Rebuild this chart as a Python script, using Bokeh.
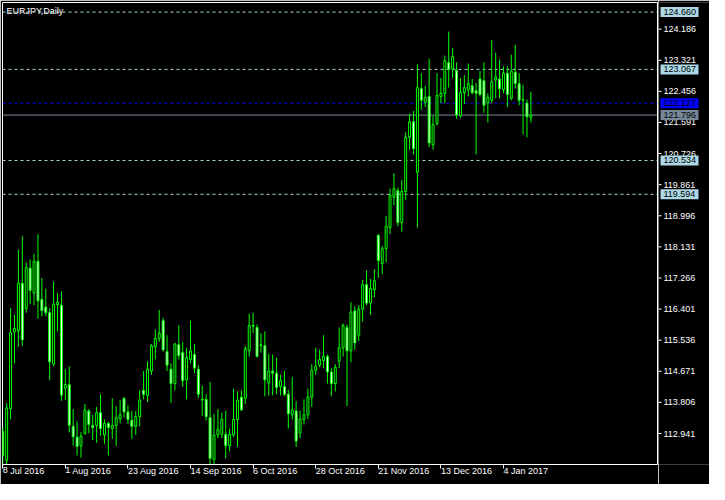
from bokeh.plotting import figure
from bokeh.layouts import row
from bokeh.models import ColumnDataSource, FixedTicker, Span, Label, Range1d
from bokeh.core.properties import value
from bokeh.embed import file_html
from bokeh.resources import INLINE

symbol = "EURJPY,Daily"

opens = [113.003, 112.193, 113.630, 115.770, 115.800, 117.120, 116.410, 117.540, 116.845, 117.730,
         116.670, 116.460, 116.300, 114.870, 116.520, 116.510, 114.200, 114.300, 113.140, 112.840,
         112.600, 112.950, 113.570, 113.165, 113.165, 113.520, 112.900, 113.220, 113.080, 113.165,
         113.350, 113.920, 113.540, 113.310, 113.140, 113.410, 114.140, 114.000, 114.680, 115.350,
         115.590, 116.080, 115.220, 114.730, 114.330, 115.410, 115.190, 114.430, 115.000, 115.140,
         114.730, 113.890, 113.890, 113.380, 112.220, 112.900, 112.920, 112.920, 112.600, 112.900,
         113.330, 113.950, 113.920, 115.240, 115.920, 115.890, 115.380, 115.380, 114.350, 114.680,
         114.620, 114.245, 114.245, 114.030, 113.460, 113.570, 112.950, 113.330, 113.460, 113.950,
         114.700, 114.840, 114.970, 115.080, 114.650, 114.330, 114.950, 115.325, 115.890, 115.240,
         116.350, 115.675, 116.400, 117.080, 116.570, 116.940, 118.455, 117.670, 118.080, 118.670,
         119.510, 119.700, 118.810, 119.670, 121.180, 121.610, 120.210, 122.530, 122.150, 122.315,
         120.965, 121.560, 122.315, 122.400, 123.260, 123.070, 123.040, 121.775, 122.420, 122.500,
         122.610, 122.480, 122.800, 122.750, 122.130, 122.210, 122.770, 122.800, 122.500, 122.960,
         122.260, 122.990, 122.670, 122.210, 122.130, 121.720]
highs = [113.138, 113.786, 116.430, 116.240, 118.050, 118.430, 117.700, 117.780, 117.940, 118.480,
         117.270, 116.970, 116.430, 117.160, 116.840, 116.890, 114.730, 114.810, 113.620, 113.270,
         112.980, 113.760, 113.620, 113.460, 113.680, 114.030, 113.330, 113.270, 113.920, 113.705,
         113.870, 113.950, 113.730, 113.570, 113.570, 114.140, 114.680, 114.950, 115.430, 115.840,
         116.380, 116.160, 115.675, 114.890, 115.460, 115.950, 115.490, 115.325, 116.080, 115.430,
         114.840, 114.270, 114.030, 114.380, 113.490, 113.620, 113.520, 113.570, 113.080, 114.190,
         114.110, 114.140, 115.380, 116.270, 116.300, 115.970, 115.730, 115.780, 115.160, 115.140,
         115.055, 114.570, 114.680, 114.160, 114.515, 113.840, 113.570, 113.890, 114.190, 114.870,
         115.325, 115.270, 115.675, 115.140, 114.760, 114.870, 115.890, 116.000, 115.970, 116.590,
         116.485, 116.510, 117.210, 117.480, 117.240, 117.510, 118.480, 118.160, 118.995, 119.750,
         120.180, 119.780, 119.990, 121.320, 121.830, 121.910, 123.210, 122.960, 122.610, 123.370,
         121.775, 122.960, 122.830, 123.450, 124.120, 123.660, 123.260, 122.830, 122.910, 123.230,
         122.800, 122.690, 123.020, 123.260, 122.400, 123.880, 123.530, 123.340, 123.150, 123.150,
         123.475, 123.745, 122.960, 122.640, 122.230, 122.450]
lows = [112.058, 112.058, 113.330, 114.890, 115.350, 115.380, 116.300, 116.540, 116.510, 116.130,
        116.200, 116.200, 114.430, 114.810, 115.780, 113.850, 113.870, 112.970, 112.600, 112.330,
        112.270, 112.900, 112.950, 112.760, 112.680, 112.870, 112.650, 112.330, 112.790, 112.600,
        113.220, 113.390, 113.200, 112.790, 112.900, 113.140, 113.890, 113.810, 114.570, 115.000,
        115.490, 115.220, 114.680, 113.790, 114.140, 115.000, 114.245, 113.890, 114.890, 114.620,
        113.920, 113.435, 113.300, 112.085, 112.085, 112.810, 112.810, 112.250, 112.440, 112.840,
        112.570, 113.570, 113.760, 115.080, 115.730, 115.055, 115.190, 113.975, 114.000, 114.000,
        114.030, 114.000, 113.975, 113.080, 113.330, 112.570, 112.810, 113.190, 113.350, 113.680,
        114.570, 114.785, 114.760, 114.330, 113.975, 114.110, 114.760, 115.080, 113.705, 114.920,
        115.270, 115.510, 116.050, 116.510, 116.240, 116.730, 117.270, 117.380, 117.700, 118.480,
        119.290, 118.700, 118.560, 119.430, 120.830, 120.700, 118.670, 121.940, 122.020, 120.910,
        120.830, 121.500, 122.130, 122.130, 122.560, 122.830, 121.690, 121.720, 122.100, 122.315,
        122.370, 120.700, 122.315, 121.860, 121.590, 122.130, 122.260, 122.260, 122.400, 122.020,
        122.210, 122.530, 122.070, 121.260, 121.180, 121.590]
closes = [112.328, 113.651, 115.750, 115.860, 117.120, 115.550, 117.560, 116.920, 117.730, 116.630,
          116.360, 116.300, 114.930, 116.540, 116.590, 114.010, 114.300, 113.170, 112.850, 112.580,
          112.870, 113.600, 113.190, 113.110, 113.520, 113.080, 113.220, 113.110, 113.165, 113.380,
          113.460, 113.540, 113.330, 113.140, 113.410, 113.870, 114.030, 114.730, 115.380, 115.590,
          115.730, 115.270, 114.840, 114.330, 115.430, 115.110, 114.410, 115.055, 115.240, 114.760,
          114.030, 113.870, 113.410, 112.250, 112.900, 113.060, 113.330, 112.600, 112.920, 113.330,
          113.870, 113.600, 115.300, 115.945, 115.945, 115.080, 115.410, 114.430, 114.680, 114.620,
          114.220, 114.410, 114.030, 113.490, 113.600, 112.730, 113.350, 113.460, 113.950, 114.700,
          114.810, 115.000, 115.080, 114.650, 114.330, 114.785, 115.325, 115.945, 115.240, 116.320,
          115.460, 116.400, 117.080, 116.570, 116.970, 117.190, 117.750, 118.080, 118.700, 119.560,
          119.750, 118.810, 119.670, 121.180, 121.610, 120.860, 122.560, 122.210, 122.290, 121.020,
          121.530, 122.340, 122.400, 123.310, 123.070, 123.420, 121.800, 122.420, 122.560, 122.670,
          122.420, 122.400, 122.370, 122.070, 122.290, 122.720, 122.855, 122.530, 122.960, 122.370,
          123.020, 122.670, 122.210, 122.230, 121.750, 121.796]

date_ticks = [0, 16, 32, 48, 64, 80, 96, 112, 128]
date_labels = ["8 Jul 2016", "1 Aug 2016", "23 Aug 2016", "14 Sep 2016", "6 Oct 2016",
               "28 Oct 2016", "21 Nov 2016", "13 Dec 2016", "4 Jan 2017"]
price_ticks = [124.186, 123.321, 122.456, 121.591, 120.726, 119.861, 118.996,
               118.131, 117.266, 116.401, 115.536, 114.671, 113.806, 112.941]
level_values = [124.660, 123.067, 122.127, 121.796, 120.534, 119.594]
level_fill = ["#add8e6", "#add8e6", "#0000ff", "#778899", "#add8e6", "#add8e6"]
level_text = ["black", "black", "black", "black", "black", "black"]
level_line = ["#add8e6", "#add8e6", "#0000ff", "#778899", "#add8e6", "#add8e6"]
level_dash = ["3 3", "3 3", "3 3", "solid", "3 3", "3 3"]

FONT = "Liberation Sans"
FS = "9px"
GREEN = "#00ff00"

n = len(opens)
src = ColumnDataSource(dict(
    x=list(range(n)), high=highs, low=lows,
    top=[max(o, c) for o, c in zip(opens, closes)],
    bottom=[min(o, c) for o, c in zip(opens, closes)],
    fill=["black" if c >= o else "white" for o, c in zip(opens, closes)],
))

H = 484
x0, x1 = -0.064, 167.37
yr = Range1d(112.079, 124.927)

# ---- main chart ----
p = figure(width=658, height=H, output_backend="svg", toolbar_location=None,
           x_range=Range1d(x0, x1), y_range=yr, y_axis_location=None,
           min_border_left=2, min_border_top=2, min_border_right=1, min_border_bottom=20,
           background_fill_color="black", border_fill_color="black",
           outline_line_color="white", outline_line_width=1)
p.grid.visible = False

xa = p.xaxis[0]
xa.ticker = FixedTicker(ticks=date_ticks)
xa.major_label_overrides = {t: l for t, l in zip(date_ticks, date_labels)}
xa.major_label_orientation = -0.0001
xa.axis_line_color = "white"
xa.major_tick_line_color = "white"
xa.minor_tick_line_color = None
xa.major_tick_in = 0
xa.major_tick_out = 4
xa.major_label_text_color = "white"
xa.major_label_text_font = FONT
xa.major_label_text_font_size = FS
xa.major_label_standoff = 2

for lv, lc, ld in zip(level_values, level_line, level_dash):
    p.add_layout(Span(location=lv, dimension="width", line_color=lc,
                      line_dash=ld, line_width=1, level="underlay"))

p.segment(x0="x", y0="low", x1="x", y1="high", source=src, line_color=GREEN, line_width=1)
p.vbar(x="x", width=0.5, top="top", bottom="bottom", source=src,
       fill_color="fill", line_color=GREEN, line_width=1)

p.add_layout(Label(x=x0, y=yr.end, x_offset=4, y_offset=-8, text=symbol, text_baseline="middle",
                   text_align="left", text_font=FONT, text_font_size=FS, text_color="white"))

# ---- price scale panel (shares the y scale) ----
q = figure(width=51, height=H, output_backend="svg", toolbar_location=None,
           x_range=Range1d(0, 51), y_range=yr, x_axis_location=None, y_axis_location=None,
           min_border_left=0, min_border_top=2, min_border_right=0, min_border_bottom=20,
           background_fill_color="black", border_fill_color="black", outline_line_color=None)
q.grid.visible = False
tick_src = ColumnDataSource(dict(y=price_ticks, label=[f"{t:.3f}" for t in price_ticks]))
q.segment(x0=0, x1=3, y0="y", y1="y", source=tick_src, line_color="white", line_width=1)
q.text(x=5, y="y", text="label", source=tick_src, text_baseline="middle", text_align="left",
       text_color="white", text_font=value(FONT), text_font_size=FS)
lvl_src = ColumnDataSource(dict(y=level_values, label=[f"{v:.3f}" for v in level_values],
                                fill=level_fill, tc=level_text))
q.rect(x=21, y="y", width=38, height=10, height_units="screen", source=lvl_src,
       fill_color="fill", line_color=None)
q.text(x=5, y="y", text="label", source=lvl_src, text_baseline="middle", text_align="left",
       text_color="tc", text_font=value(FONT), text_font_size=FS)

layout = row(p, q)
open("out.html", "w").write(file_html(layout, INLINE))
